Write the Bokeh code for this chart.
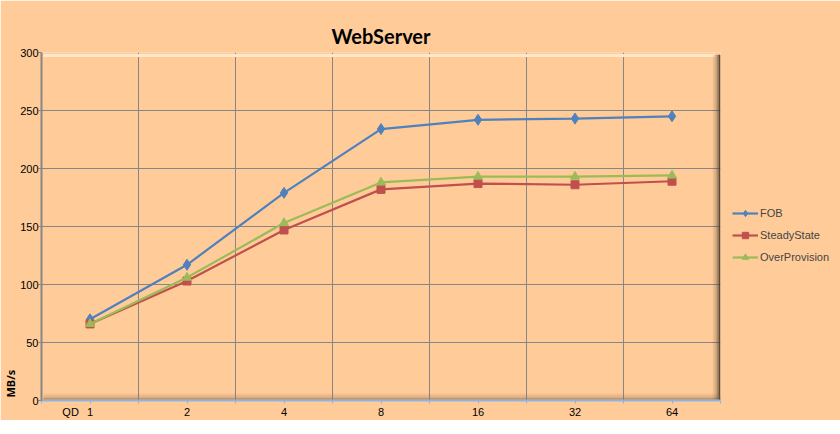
from bokeh.plotting import figure
from bokeh.models import (Range1d, FixedTicker, Grid, Legend, LegendItem, LinearAxis, Title)
from bokeh.embed import file_html
from bokeh.resources import INLINE

# ---- data ----
qd_labels = ["1", "2", "4", "8", "16", "32", "64"]
fob = [70, 117, 179, 234, 242, 243, 245]
steady = [66, 103, 147, 182, 187, 186, 189]
overprov = [66, 106, 153, 188, 193, 193, 194]
y_ticks = [0, 50, 100, 150, 200, 250, 300]
x_title = "QD"
y_title = "MB/s"
chart_title = "WebServer"

BG = "#FFCC99"
GRID = "#868686"
TICK_FONT = "Liberation Sans"
n = len(qd_labels)
xs = [i + 0.5 for i in range(n)]
qd_pos = 0.30

p = figure(frame_width=679, frame_height=348, output_backend="svg", toolbar_location=None,
           x_range=Range1d(0, n), y_range=Range1d(0, 300),
           min_border_left=41, min_border_right=104, min_border_top=52, min_border_bottom=18,
           background_fill_color=BG, border_fill_color=BG, x_axis_type=None, y_axis_type=None)
p.outline_line_color = None

# x axis: major ticks carry labels (and the QD caption), minor ticks draw marks
overrides = {x: l for x, l in zip(xs, qd_labels)}
overrides[qd_pos] = x_title
xaxis = LinearAxis(ticker=FixedTicker(ticks=[qd_pos] + xs,
                                      minor_ticks=sorted(list(range(n + 1)) + xs)),
                   major_label_overrides=overrides)
xaxis.axis_line_color = "#8EB4E3"
xaxis.axis_line_width = 2
xaxis.major_tick_line_color = None
xaxis.major_tick_in = 0
xaxis.major_tick_out = 3
xaxis.minor_tick_line_color = "#8EB4E3"
xaxis.minor_tick_in = 0
xaxis.minor_tick_out = 3
xaxis.major_label_standoff = 2
xaxis.major_label_text_font = TICK_FONT
xaxis.major_label_text_font_size = "11px"
xaxis.major_label_text_color = "black"
p.add_layout(xaxis, "below")

yaxis = LinearAxis(ticker=FixedTicker(ticks=y_ticks))
yaxis.axis_line_color = GRID
yaxis.axis_line_width = 2
yaxis.major_tick_line_color = GRID
yaxis.major_tick_in = 0
yaxis.major_tick_out = 3
yaxis.minor_tick_line_color = None
yaxis.major_label_standoff = 0
yaxis.major_label_text_font = TICK_FONT
yaxis.major_label_text_font_size = "11px"
yaxis.major_label_text_color = "black"
p.add_layout(yaxis, "left")

# grids
p.add_layout(Grid(dimension=0, ticker=FixedTicker(ticks=list(range(1, n))),
                  grid_line_color=GRID, grid_line_width=1))
p.add_layout(Grid(dimension=1, ticker=FixedTicker(ticks=y_ticks[1:]),
                  grid_line_color=GRID, grid_line_width=1))

# 3D frame effects
ymax = y_ticks[-1]
p.segment(x0=[0.02], y0=[ymax - 2.5], x1=[n - 0.05], y1=[ymax - 2.5], line_color="#FFE9C8", line_width=3)
for k in range(4):
    p.segment(x0=[0.02], y0=[1.2 + k * 1.4], x1=[n], y1=[1.2 + k * 1.4], line_color="#8A6440",
              line_alpha=[0.45, 0.28, 0.15, 0.07][k], line_width=2)
    p.segment(x0=[n - 0.01 - k * 0.02], y0=[0], x1=[n - 0.01 - k * 0.02], y1=[ymax - 2], line_color="#4A3A2A",
              line_alpha=[0.9, 0.45, 0.22, 0.1][k], line_width=2)

# series
series = [("FOB", fob, "#4F81BD", "diamond", 11),
          ("SteadyState", steady, "#C0504D", "square", 8),
          ("OverProvision", overprov, "#9BBB59", "triangle", 9)]
items = []
for name, vals, col, mk, sz in series:
    r1 = p.line(xs, vals, line_color=col, line_width=2.2)
    r2 = p.scatter(xs, vals, marker=mk, size=sz, fill_color=col, line_color=col)
    items.append(LegendItem(label=name, renderers=[r1, r2]))

legend = Legend(items=items, location=(12, 135), background_fill_alpha=0, border_line_alpha=0,
                padding=0, margin=0, spacing=6, label_height=16, glyph_height=16, glyph_width=26,
                label_text_font="Liberation Sans", label_text_font_size="11px", label_standoff=2)
p.add_layout(legend, "right")

# titles
p.add_layout(Title(text=chart_title, align="center", text_font="Lato", text_font_style="bold",
                   text_font_size="20px", text_color="black", standoff=10), "above")
p.add_layout(Title(text=y_title, align="left", text_font="Noto Sans", text_font_style="bold",
                   text_font_size="11px", text_color="black", standoff=0, offset=3), "left")

open("out.html", "w").write(file_html(p, INLINE))
